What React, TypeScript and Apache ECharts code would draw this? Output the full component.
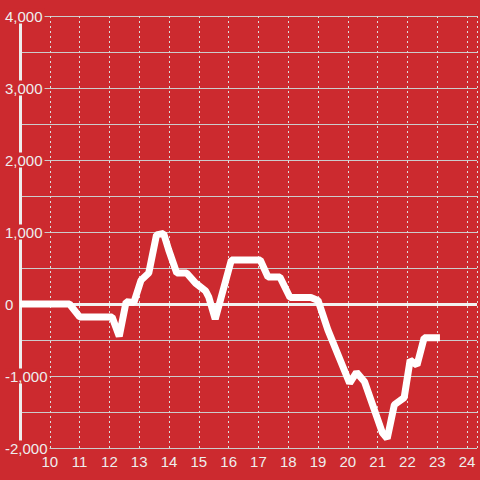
import React, { useEffect, useRef } from "react";
import * as echarts from "echarts";

const hours: number[] = [
  9, 10.66, 11.0, 12.09, 12.33, 12.56, 12.82, 13.06, 13.32, 13.58, 13.82, 13.99,
  14.26, 14.59, 14.89, 15.23, 15.33, 15.55, 16.09, 17.06, 17.32, 17.72, 18.06,
  18.76, 19.0, 19.33, 20.06, 20.29, 20.56, 21.16, 21.32, 21.56, 21.89, 22.09,
  22.32, 22.56, 23.09,
];
const values: number[] = [
  0, 0, -180, -180, -450, 30, 20, 330, 430, 960, 980, 750,
  430, 430, 290, 180, 100, -210, 610, 610, 375, 375, 90,
  90, 50, -360, -1100, -950, -1080, -1790, -1870, -1400, -1300, -780,
  -850, -470, -470,
];

const BG = "#cc2a2f";

export default function App() {
  const ref = useRef<HTMLDivElement>(null);
  useEffect(() => {
    if (!ref.current) return;
    const chart = echarts.init(ref.current, undefined, { renderer: "svg" });
    const data = hours.map((h, i) => [h, values[i]]);
    chart.setOption({
      animation: false,
      backgroundColor: BG,
      grid: { left: 20, right: 0, top: 16, bottom: 32, containLabel: false },
      xAxis: {
        type: "value",
        min: 9,
        max: 24.3333,
        interval: 1,
        axisLine: { show: false },
        axisTick: { show: false },
        axisLabel: {
          color: "#eeeeee",
          fontSize: 15,
          fontFamily: "Liberation Sans, Arial, sans-serif",
          margin: 6,
          showMinLabel: false,
          formatter: (v: number) =>
            Number.isInteger(v) && v >= 10 ? String(v) : "",
        },
        splitLine: {
          show: true,
          lineStyle: { color: "#dddddd", width: 1, type: [2, 3] },
        },
      },
      yAxis: {
        type: "value",
        min: -2000,
        max: 4000,
        interval: 500,
        axisLine: { show: true, lineStyle: { color: "#eeeeee", width: 3 } },
        axisTick: { show: false },
        axisLabel: {
          color: "#eeeeee",
          fontSize: 15,
          fontFamily: "Liberation Sans, Arial, sans-serif",
          align: "left",
          margin: 15,
          backgroundColor: BG,
          padding: [0, 2, 0, 0],
          formatter: (v: number) =>
            v % 1000 === 0 ? v.toLocaleString("en-US") : "",
        },
        splitLine: {
          show: true,
          lineStyle: { color: "#cccccc", width: 1 },
        },
      },
      series: [
        {
          type: "line",
          data,
          showSymbol: false,
          symbol: "none",
          lineStyle: { color: "#ffffff", width: 7 },
          markLine: {
            silent: true,
            symbol: ["none", "none"],
            label: { show: false },
            lineStyle: { color: "#f2f2f2", width: 3, type: "solid" },
            data: [{ yAxis: 0 }],
            z: 1,
          },
          z: 3,
        },
      ],
    });
    return () => chart.dispose();
  }, []);
  return (
    <div
      ref={ref}
      style={{ position: "fixed", left: 0, top: 0, width: 480, height: 480 }}
    />
  );
}
